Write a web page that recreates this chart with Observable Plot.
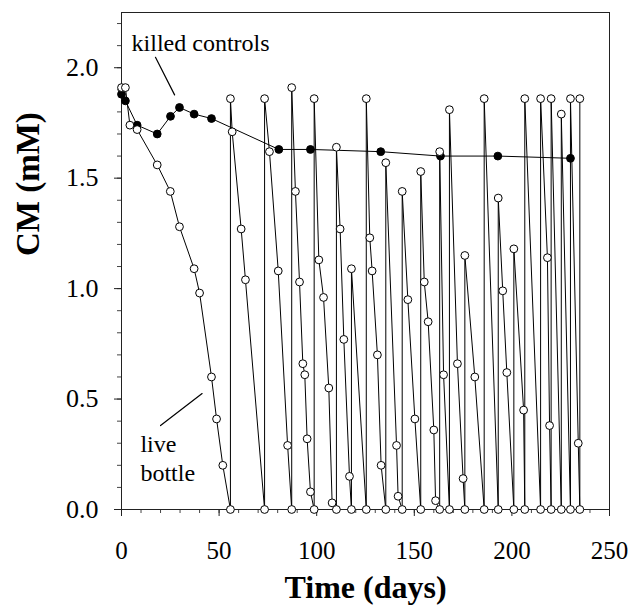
<!DOCTYPE html>
<html>
<head>
<meta charset="utf-8">
<script src="https://cdn.jsdelivr.net/npm/d3@7"></script>
<script src="https://cdn.jsdelivr.net/npm/@observablehq/plot@0.6"></script>
<style>
  html, body { margin: 0; padding: 0; background: #fff; }
  #chart svg { display: block; }
</style>
</head>
<body>
<div id="chart"></div>
<script>
// ---- data ----
const killedDay = [0, 2, 8, 18.3, 25.1, 29.7, 37.2, 46.1, 80.6, 96.8, 132.8, 163.4, 192.8, 230];
const killedCM  = [1.88, 1.85, 1.74, 1.70, 1.78, 1.82, 1.79, 1.77, 1.63, 1.63, 1.62, 1.60, 1.60, 1.59];

const liveDay = [
  0, 2, 4.3, 8, 18.3, 25, 29.7, 37.2, 40, 46.1, 48.7, 51.9, 55.8,
  55.8, 56.7, 61.3, 63.5, 73.3,
  73.3, 75.8, 80.3, 85.1, 87.2,
  87.2, 89.1, 91.2, 92.9, 93.9, 95.1, 96.8, 98.7,
  98.7, 101.1, 103.5, 106.2, 107.9, 110.1,
  110.1, 112, 113.9, 116.8, 117.8,
  117.8, 125.4,
  125.4, 127.2, 128.4, 131.1, 133, 135.4,
  135.4, 140.9, 141.7, 143.8,
  143.8, 146.7, 150.3, 153.3,
  153.3, 155.1, 157.1, 160, 160.9, 163,
  163, 165, 168,
  168, 172.1, 175, 175.9,
  175.9, 181, 185.8,
  185.8, 193,
  193, 195.3, 197.4, 201,
  201, 206, 206.6,
  206.6, 214.7,
  214.7, 218.2, 219.3, 220.1,
  220.1, 225.3,
  225.3, 230,
  230, 234, 234.8,
  234.8
];
const liveCM = [
  1.91, 1.91, 1.74, 1.72, 1.56, 1.44, 1.28, 1.09, 0.98, 0.60, 0.41, 0.20, 0,
  1.86, 1.71, 1.27, 1.04, 0,
  1.86, 1.62, 1.08, 0.29, 0,
  1.91, 1.44, 1.03, 0.66, 0.61, 0.32, 0.08, 0,
  1.86, 1.13, 0.96, 0.55, 0.03, 0,
  1.64, 1.27, 0.77, 0.15, 0,
  1.09, 0,
  1.86, 1.23, 1.08, 0.70, 0.20, 0,
  1.57, 0.29, 0.06, 0,
  1.44, 0.95, 0.41, 0,
  1.53, 1.03, 0.85, 0.36, 0.04, 0,
  1.62, 0.61, 0,
  1.81, 0.66, 0.14, 0,
  1.15, 0.60, 0,
  1.86, 0,
  1.41, 0.99, 0.62, 0,
  1.18, 0.45, 0,
  1.86, 0,
  1.86, 1.14, 0.38, 0,
  1.86, 0,
  1.79, 0,
  1.86, 0.30, 0,
  1.86
];

const xMajorTicks = [0, 50, 100, 150, 200, 250];
const xMinorTicks = d3.range(0, 251, 10);
const yMajorTicks = [0, 0.5, 1.0, 1.5, 2.0];
const yMinorTicks = d3.range(0, 23).map(i => i / 10);

const xTitle = "Time (days)";
const yTitle = "CM (mM)";

// annotations (in data units)
const killedLabel = {text: "killed controls", day: 40.5, cm: 2.11};
const killedPointer = [{day: 17.4, cm: 2.047}, {day: 27.2, cm: 1.877}];
const liveLabel = [{text: "live", day: 9.7, cm: 0.297}, {text: "bottle", day: 9.7, cm: 0.166}];
const livePointer = [{day: 20, cm: 0.38}, {day: 41.3, cm: 0.525}];

// ---- tables ----
const killed = killedDay.map((d, i) => ({day: d, cm: killedCM[i]}));
const live = liveDay.map((d, i) => ({day: d, cm: liveCM[i]}));

const font = "'Liberation Serif', 'Times New Roman', serif";

const chart = Plot.plot({
  width: 634,
  height: 615,
  marginLeft: 121,
  marginRight: 25,
  marginTop: 12,
  marginBottom: 106,
  style: {fontFamily: font, background: "#fff", color: "#000"},
  x: {domain: [0, 250]},
  y: {domain: [0, 2.25]},
  marks: [
    Plot.axisX({ticks: xMinorTicks, tickSize: 4, tickFormat: () => null, label: null, stroke: "#444"}),
    Plot.axisX({ticks: xMajorTicks, tickSize: 7, tickPadding: 25, fontSize: 25, fontFamily: font, label: null, stroke: "#222"}),
    Plot.axisY({ticks: yMinorTicks, tickSize: 4, tickFormat: () => null, label: null, stroke: "#444"}),
    Plot.axisY({ticks: yMajorTicks, tickSize: 7, tickPadding: 16, fontSize: 26, fontFamily: font, tickFormat: d3.format(".1f"), label: null, stroke: "#222"}),
    Plot.frame({stroke: "#222", strokeWidth: 1}),
    Plot.line(live, {x: "day", y: "cm", stroke: "#000", strokeWidth: 1}),
    Plot.line(killed, {x: "day", y: "cm", stroke: "#000", strokeWidth: 1}),
    Plot.dot(killed, {x: "day", y: "cm", r: 3.9, fill: "#000", stroke: "#000", strokeWidth: 1}),
    Plot.dot(live, {x: "day", y: "cm", r: 3.9, fill: "#fff", stroke: "#000", strokeWidth: 1}),
    Plot.text([killedLabel], {x: "day", y: "cm", text: "text", fontSize: 24, fontFamily: font, fill: "#000"}),
    Plot.line(killedPointer, {x: "day", y: "cm", stroke: "#000", strokeWidth: 1.2}),
    Plot.text(liveLabel, {x: "day", y: "cm", text: "text", textAnchor: "start", fontSize: 24, fontFamily: font, fill: "#000"}),
    Plot.line(livePointer, {x: "day", y: "cm", stroke: "#000", strokeWidth: 1.2}),
    Plot.text([xTitle], {frameAnchor: "bottom", dy: 88, fontSize: 32, fontWeight: "bold", fontFamily: font, fill: "#000"}),
    Plot.text([yTitle], {frameAnchor: "left", dx: -93, dy: -5, rotate: -90, fontSize: 33, fontWeight: "bold", fontFamily: font, fill: "#000"})
  ]
});

document.getElementById("chart").appendChild(chart);
</script>
</body>
</html>
